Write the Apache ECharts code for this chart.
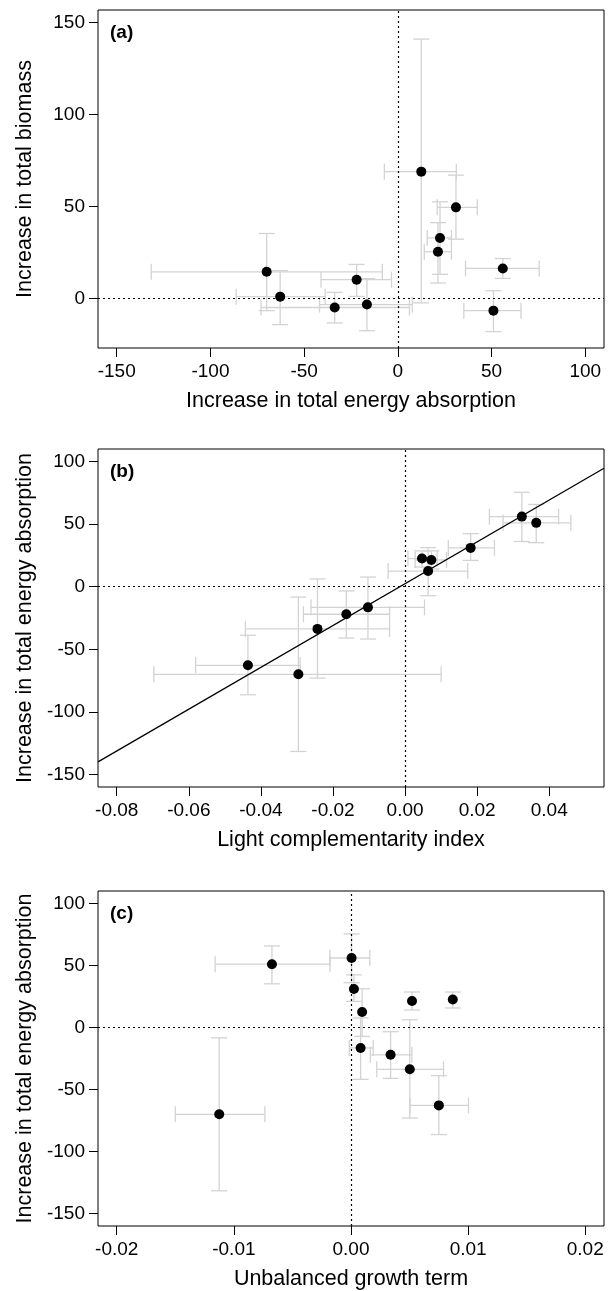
<!DOCTYPE html>
<html>
<head>
<meta charset="utf-8">
<script src="https://cdn.jsdelivr.net/npm/echarts@6/dist/echarts.min.js"></script>
<style>
html, body { margin: 0; padding: 0; background: #fff; }
#chart { width: 615px; height: 1291px; }
</style>
</head>
<body>
<div id="chart"></div>
<script>
// one entry per mixture, same order in every array
// increase in total energy absorption: x in (a), y in (b) and (c)
const energy   = [-70.0, -62.8, -33.7, -16.5, -22.0, 12.5, 31.0, 22.5, 21.4, 56.0, 51.0]
const energyLo = [-131.6, -86.3, -73.0, -41.8, -41.0, -7.2, 21.0, 15.7, 14.1, 36.1, 35.2]
const energyHi = [-8.3, -38.8, 6.2, 7.7, -3.4, 31.2, 42.4, 28.6, 28.6, 75.4, 65.7]

// increase in total biomass (a)
const biomass   = [14.6, 1.1, -4.8, -3.2, 10.3, 69.0, 49.6, 33.0, 25.5, 16.4, -6.5]
const biomassLo = [-6.5, -14.1, -13.2, -17.4, 1.2, -2.3, 32.3, 13.2, 8.5, 11.0, -17.9]
const biomassHi = [35.4, 15.2, 3.4, 10.9, 18.6, 141.0, 67.1, 52.6, 41.3, 21.8, 4.3]

// light complementarity index (b)
const compl   = [-0.0296, -0.0436, -0.0243, -0.0103, -0.0163, 0.0064, 0.0182, 0.0047, 0.0073, 0.0324, 0.0364]
const complLo = [-0.0697, -0.0581, -0.0443, -0.0261, -0.0282, -0.0047, 0.0120, 0.0008, 0.0028, 0.0234, 0.0272]
const complHi = [0.0100, -0.0291, -0.0043, 0.0054, -0.0043, 0.0174, 0.0248, 0.0089, 0.0115, 0.0426, 0.0460]

// unbalanced growth term (c)
const unbal   = [-0.01125, 0.00750, 0.00502, 0.00082, 0.00338, 0.00095, 0.00025, 0.00869, 0.00521, 0.00005, -0.00675]
const unbalLo = [-0.0150, 0.00504, 0.0022, -0.00015, 0.00165, 0.00095, 0.00025, 0.00869, 0.00521, -0.0018, -0.0116]
const unbalHi = [-0.00735, 0.01003, 0.0079, 0.0019, 0.0052, 0.00095, 0.00025, 0.00869, 0.00521, 0.0016, -0.0018]

// fitted line in (b)
const fitIntercept = 2.4
const fitSlope = 1670

const ticksA_x = [-150, -100, -50, 0, 50, 100]
const ticksA_y = [0, 50, 100, 150]
const ticksB_x = [-0.08, -0.06, -0.04, -0.02, 0, 0.02, 0.04]
const ticksEnergy = [-150, -100, -50, 0, 50, 100]
const ticksC_x = [-0.02, -0.01, 0, 0.01, 0.02]

const font = 'Liberation Sans, Arial, Helvetica, sans-serif'
const barColor = '#d3d3d3'

const rangeA_x = [-160, 110]
const rangeA_y = [-26.8, 156.8]
const rangeB_x = [-0.0852, 0.0552]
const rangeC_x = [-0.0216, 0.0216]
const rangeEnergy = [-160, 110]

const zip = (xs, ys, xl, xh, yl, yh) => xs.map((v, i) => [v, ys[i], xl[i], xh[i], yl[i], yh[i]])

function errorBars(params, api) {
  const x = api.value(0), y = api.value(1)
  const c = api.coord([x, y])
  const xl = api.coord([api.value(2), y])[0]
  const xh = api.coord([api.value(3), y])[0]
  const yl = api.coord([x, api.value(4)])[1]
  const yh = api.coord([x, api.value(5)])[1]
  const cap = 8
  const style = { stroke: barColor, lineWidth: 1.3 }
  const seg = (x1, y1, x2, y2) => ({ type: 'line', shape: { x1, y1, x2, y2 }, style })
  const kids = []
  if (Math.abs(xh - xl) > 1) {
    kids.push(seg(xl, c[1], xh, c[1]), seg(xl, c[1] - cap, xl, c[1] + cap), seg(xh, c[1] - cap, xh, c[1] + cap))
  }
  if (Math.abs(yh - yl) > 1) {
    kids.push(seg(c[0], yl, c[0], yh), seg(c[0] - cap, yl, c[0] + cap, yl), seg(c[0] - cap, yh, c[0] + cap, yh))
  }
  return { type: 'group', children: kids }
}

function axis(grid, range, ticks, name, isY, fmt) {
  return {
    type: 'value', gridIndex: grid, min: range[0], max: range[1],
    axisLine: { show: false, onZero: false },
    splitLine: { show: false },
    axisTick: { show: true, length: 9, customValues: ticks, lineStyle: { color: '#000', width: 1 } },
    axisLabel: { customValues: ticks, formatter: fmt || (v => String(v)), fontSize: 19, color: '#000', fontFamily: font, margin: isY ? 13 : 14 },
    name: name, nameLocation: 'middle', nameGap: isY ? 62 : 42,
    nameTextStyle: { fontSize: 21.5, color: '#000', fontFamily: font }
  }
}

const zeroLines = {
  silent: true, symbol: 'none', label: { show: false }, animation: false,
  lineStyle: { color: '#000', type: [2, 3], width: 1.2 },
  data: [{ xAxis: 0 }, { yAxis: 0 }]
}

function panel(idx, data) {
  return [
    { type: 'custom', xAxisIndex: idx, yAxisIndex: idx, renderItem: errorBars, data: data,
      encode: { x: [0, 2, 3], y: [1, 4, 5] }, z: 2, silent: true },
    { type: 'scatter', xAxisIndex: idx, yAxisIndex: idx, data: data.map(d => [d[0], d[1]]),
      symbolSize: 10, itemStyle: { color: '#000', opacity: 1 }, z: 4, markLine: zeroLines }
  ]
}

const dataA = zip(energy, biomass, energyLo, energyHi, biomassLo, biomassHi)
const dataB = zip(compl, energy, complLo, complHi, energyLo, energyHi)
const dataC = zip(unbal, energy, unbalLo, unbalHi, energyLo, energyHi)
const fitB = rangeB_x.map(x => [x, fitIntercept + fitSlope * x])

const two = v => v.toFixed(2)

const gridTops = [10, 449, 891]
const chart = echarts.init(document.getElementById('chart'))
chart.setOption({
  animation: false,
  backgroundColor: '#fff',
  title: ['(a)', '(b)', '(c)'].map((t, i) => ({
    text: t, left: 110, top: gridTops[i] + 13, padding: 0,
    textStyle: { fontSize: 19, fontWeight: 'bold', color: '#000', fontFamily: font }
  })),
  grid: gridTops.map(t => ({
    left: 98, width: 506, top: t, height: 338, show: true,
    borderColor: '#000', borderWidth: 1, backgroundColor: 'transparent'
  })),
  xAxis: [
    axis(0, rangeA_x, ticksA_x, 'Increase in total energy absorption', false),
    axis(1, rangeB_x, ticksB_x, 'Light complementarity index', false, two),
    axis(2, rangeC_x, ticksC_x, 'Unbalanced growth term', false, two)
  ],
  yAxis: [
    axis(0, rangeA_y, ticksA_y, 'Increase in total biomass', true),
    axis(1, rangeEnergy, ticksEnergy, 'Increase in total energy absorption', true),
    axis(2, rangeEnergy, ticksEnergy, 'Increase in total energy absorption', true)
  ],
  series: [
    ...panel(0, dataA),
    ...panel(1, dataB),
    { type: 'line', xAxisIndex: 1, yAxisIndex: 1, data: fitB, showSymbol: false, silent: true,
      lineStyle: { color: '#000', width: 1.3 }, z: 3 },
    ...panel(2, dataC)
  ]
})
</script>
</body>
</html>
